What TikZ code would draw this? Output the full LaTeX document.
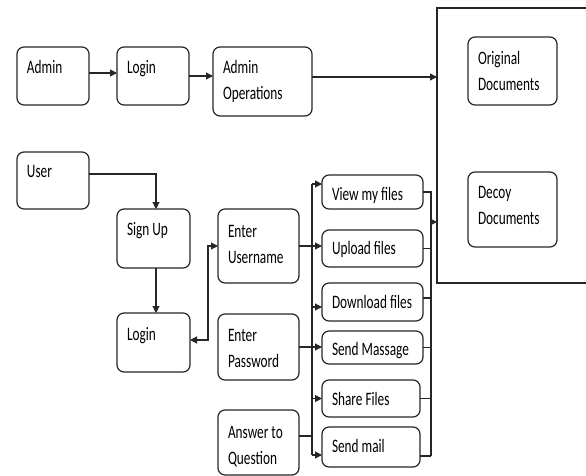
\documentclass[tikz,border=0pt]{standalone}
\usepackage{fontspec}
\newfontfamily\diafont{Carlito}[FakeStretch=0.70]
\usetikzlibrary{arrows.meta,calc}
\tikzset{
 box/.style={draw=black!85, line width=1.2pt, rounded corners=7pt, inner sep=0pt, outer sep=0pt},
 txt/.style={anchor=north west, inner sep=0pt, outer sep=0pt, align=left, font=\diafont\fontsize{19}{26}\selectfont},
 conn/.style={draw=black!85, line width=1.1pt},
 arr/.style={conn, -{Triangle[length=7pt,width=7pt]}},
 arrb/.style={conn, {Triangle[length=7pt,width=7pt]}-{Triangle[length=7pt,width=7pt]}},
}
\newcommand\bx[5]{\node[box, minimum width={(#4-#2)*1pt}, minimum height={(#5-#3)*1pt}] (#1) at ({(#2+#4)/2},{(#3+#5)/2}) {};}
\newcommand\tx[3]{\node[txt] (#1-t) at ($(#1.north west)+(10,#2)$) {\rule{0pt}{14pt}#3};}
\begin{document}
\begin{tikzpicture}[x=1pt,y=-1pt]
\useasboundingbox (0,0) rectangle (586,476);
% boxes
\bx{admin}{17}{47}{89}{105}
\bx{login1}{117}{47}{189}{105}
\bx{ops}{213}{47}{312}{116}
\bx{orig}{468}{37}{557}{105}
\bx{decoy}{468}{172}{557}{247}
\bx{user}{17}{152}{89}{209}
\bx{signup}{117}{209}{190}{268}
\bx{login2}{117}{313}{190}{372}
\bx{uname}{218}{209}{299}{283}
\bx{pwd}{218}{314}{299}{380}
\bx{ans}{218}{410}{299}{475}
\bx{view}{322}{175}{423}{209}
\bx{upload}{322}{230}{423}{267}
\bx{download}{322}{283}{423}{321}
\bx{sendmsg}{322}{331}{423}{364}
\bx{share}{322}{380}{420}{417}
\bx{sendmail}{322}{427}{420}{467}
% documents container (open at right edge)
\node[inner sep=0pt, outer sep=0pt, minimum width=149pt, minimum height=275pt] (docs) at (511.5,145.5) {};
\draw[conn] (docs.north east) -- (docs.north west) -- (docs.south west) -- (docs.south east);
% texts
\tx{admin}{13}{Admin}
\tx{login1}{13}{Login}
\tx{ops}{13}{Admin\\Operations}
\tx{orig}{14}{Original\\Documents}
\tx{decoy}{12}{Decoy\\Documents}
\tx{user}{11}{User}
\tx{signup}{12}{Sign Up}
\tx{login2}{13}{Login}
\tx{uname}{14}{Enter\\Username}
\tx{pwd}{13}{Enter\\Password}
\tx{ans}{14}{Answer to\\Question}
\tx{view}{11}{View my files}
\tx{upload}{10}{Upload files}
\tx{download}{11}{Download files}
\tx{sendmsg}{10}{Send Massage}
\tx{share}{11}{Share Files}
\tx{sendmail}{11}{Send mail}
% admin row
\draw[arr] ([yshift=3pt]admin.east) -- ([yshift=3pt]login1.west);
\draw[arr] (login1.east) -- (login1.east -| ops.west);
\draw[arr] ([yshift=4.5pt]ops.east) -- ([yshift=4.5pt]ops.east -| docs.west);
% user column
\draw[arr] ([yshift=6.5pt]user.east) -| ([xshift=2.5pt]signup.north);
\draw[arr] ([xshift=2.5pt]signup.south) -- ([xshift=2.5pt]login2.north);
\draw[arrb] ([yshift=2.5pt]login2.east) -- ++(18,0) |- (uname.west);
% left bus
\coordinate (busTop) at (312,184);
\coordinate (busBot) at (312,455);
\draw[conn] (busTop) -- (busBot);
\draw[arr] (busTop) -- (busTop -| view.west);
\draw[arr] (busBot) -- (busBot -| sendmail.west);
\draw[arr] (busTop |- download.west) ++(0,5) -- ([yshift=-5pt]download.west);
\draw[arr] (busTop |- share.west) -- (share.west);
\draw[arr] (uname.east) -- (uname.east -| upload.west);
\draw[arr] (pwd.east) -- (pwd.east -| sendmsg.west);
\draw[conn] ([yshift=6.5pt]ans.east) -- ++(13,0);
% right collector
\coordinate (colTop) at (431,192);
\coordinate (colBot) at (431,456);
\coordinate (colArr) at (431,222);
\draw[conn] (view.east) -- (colTop) -- (colBot);
\draw[conn] (upload.east) -- (upload.east -| colTop);
\draw[conn] ([yshift=4pt]download.east) -- ([yshift=4pt]download.east -| colTop);
\draw[conn] (sendmsg.east) -- (sendmsg.east -| colTop);
\draw[conn] (share.east) -- (share.east -| colTop);
\draw[conn] ([yshift=-9pt]sendmail.east) -- (colBot);
\draw[arr] (colArr) -- (colArr -| docs.west);
\end{tikzpicture}
\end{document}
